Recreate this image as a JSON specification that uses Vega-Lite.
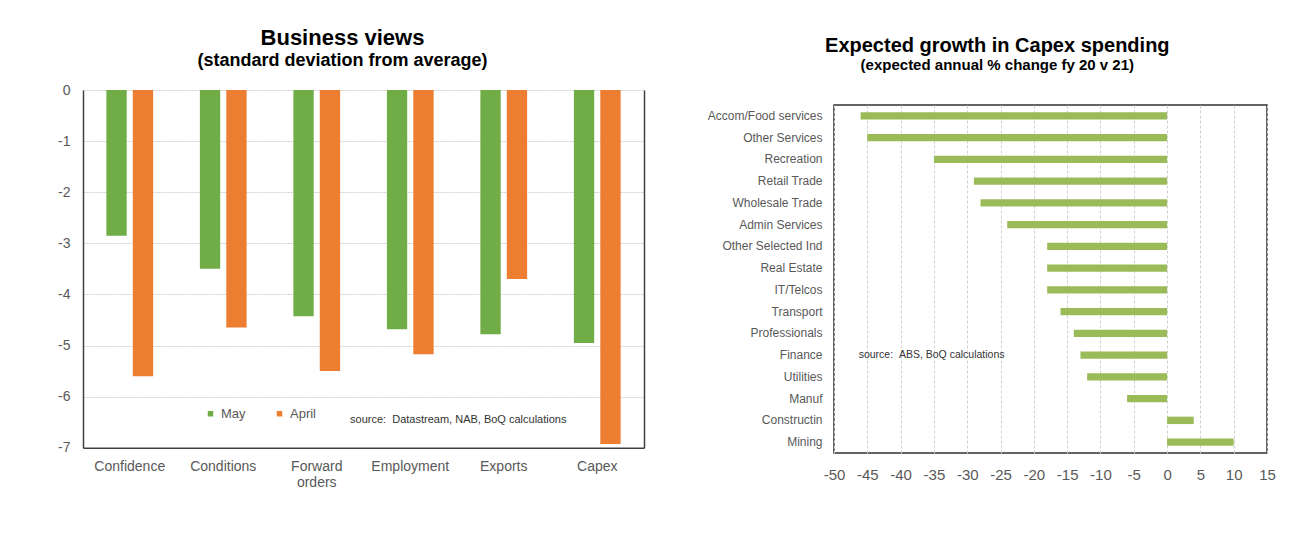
{
  "$schema": "https://vega.github.io/schema/vega-lite/v6.json",
  "background": "white",
  "padding": {"left": 57, "top": 27, "right": 0, "bottom": 0},
  "spacing": 62,
  "config": {
    "font": "Liberation Sans",
    "view": {"stroke": null},
    "axis": {"labelColor": "#595959", "domainColor": "#404040", "tickColor": "#404040"}
  },
  "datasets": {
    "business": [
      {"measure": "Confidence", "month": "May", "sd": -2.85},
      {"measure": "Confidence", "month": "April", "sd": -5.6},
      {"measure": "Conditions", "month": "May", "sd": -3.5},
      {"measure": "Conditions", "month": "April", "sd": -4.65},
      {"measure": "Forward orders", "month": "May", "sd": -4.43},
      {"measure": "Forward orders", "month": "April", "sd": -5.5},
      {"measure": "Employment", "month": "May", "sd": -4.68},
      {"measure": "Employment", "month": "April", "sd": -5.17},
      {"measure": "Exports", "month": "May", "sd": -4.78},
      {"measure": "Exports", "month": "April", "sd": -3.7},
      {"measure": "Capex", "month": "May", "sd": -4.95},
      {"measure": "Capex", "month": "April", "sd": -6.93}
    ],
    "capex": [
      {"industry": "Accom/Food services", "change": -46},
      {"industry": "Other Services", "change": -45},
      {"industry": "Recreation", "change": -35},
      {"industry": "Retail Trade", "change": -29},
      {"industry": "Wholesale Trade", "change": -28},
      {"industry": "Admin Services", "change": -24},
      {"industry": "Other Selected Ind", "change": -18},
      {"industry": "Real Estate", "change": -18},
      {"industry": "IT/Telcos", "change": -18},
      {"industry": "Transport", "change": -16},
      {"industry": "Professionals", "change": -14},
      {"industry": "Finance", "change": -13},
      {"industry": "Utilities", "change": -12},
      {"industry": "Manuf", "change": -6},
      {"industry": "Constructin", "change": 4},
      {"industry": "Mining", "change": 10}
    ]
  },
  "hconcat": [
    {
      "width": 561,
      "height": 342.7,
      "title": {
        "text": "Business views",
        "subtitle": "(standard deviation from average)",
        "fontSize": 22,
        "subtitleFontSize": 18,
        "fontWeight": "bold",
        "subtitleFontWeight": "bold",
        "color": "black",
        "subtitleColor": "black",
        "anchor": "middle",
        "frame": "group",
        "dx": -21,
        "subtitlePadding": 2,
        "offset": 12
      },
      "layer": [
        {
          "layer": [
            {
              "data": {"name": "business"},
              "mark": {"type": "bar"},
              "encoding": {
                "x": {
                  "field": "measure", "type": "nominal",
                  "scale": {"domain": ["Confidence", "Conditions", "Forward orders", "Employment", "Exports", "Capex"], "paddingInner": 0.5, "paddingOuter": 0.25},
                  "axis": {
                    "title": null, "labelAngle": 0, "labelFontSize": 14, "labelPadding": 12, "ticks": false,
                    "domainColor": "#404040", "domainWidth": 1.5,
                    "labelExpr": "datum.label == 'Forward orders' ? ['Forward', 'orders'] : datum.label",
                    "labelLineHeight": 16
                  }
                },
                "xOffset": {"field": "month", "type": "nominal", "scale": {"domain": ["May", "April"], "paddingInner": 0.23}},
                "y": {
                  "field": "sd", "type": "quantitative",
                  "scale": {"domain": [-7, 0], "nice": false, "range": [342.7, -15]},
                  "axis": {
                    "title": null, "values": [0, -1, -2, -3, -4, -5, -6, -7], "labelFontSize": 14, "labelPadding": 13, "ticks": false,
                    "labelExpr": "datum.value + ''",
                    "grid": true, "gridColor": "#d0d0d0", "gridDash": [2, 1], "domainColor": "#404040", "domainWidth": 1.5
                  }
                },
                "color": {
                  "field": "month", "type": "nominal",
                  "scale": {"domain": ["May", "April"], "range": ["#70AD47", "#ED7D31"]},
                  "legend": {
                    "title": null, "orient": "none", "direction": "horizontal", "legendX": 121, "legendY": 302,
                    "symbolType": "square", "symbolSize": 30, "labelFontSize": 13, "labelColor": "#595959",
                    "columnPadding": 27, "labelOffset": 4
                  }
                }
              }
            },
            {
              "data": {"values": [{"note": "source:\u00a0\u00a0Datastream, NAB, BoQ calculations", "m": "Employment", "v": -6.45}]},
              "mark": {"type": "text", "fontSize": 11, "color": "#333333", "align": "center", "dx": 48},
              "encoding": {
                "x": {"field": "m", "type": "nominal"},
                "y": {"field": "v", "type": "quantitative"},
                "text": {"field": "note"}
              }
            }
          ]
        },
        {
          "data": {"name": "business"},
          "mark": {"type": "rule", "opacity": 0},
          "encoding": {
            "y": {"field": "sd", "type": "quantitative", "scale": {"domain": [-7, 0], "nice": false, "range": [342.7, -15]},
              "axis": {"orient": "right", "labels": false, "ticks": false, "grid": false, "title": null, "domainColor": "#404040", "domainWidth": 1.5}}
          }
        }
      ],
      "resolve": {"scale": {"y": "independent"}, "axis": {"y": "independent"}}
    },
    {
      "width": 433,
      "height": 348,
      "title": {
        "text": "Expected growth in Capex spending",
        "subtitle": "(expected annual % change fy 20 v 21)",
        "fontSize": 20,
        "subtitleFontSize": 15,
        "fontWeight": "bold",
        "subtitleFontWeight": "bold",
        "color": "black",
        "subtitleColor": "black",
        "anchor": "middle",
        "frame": "bounds",
        "dx": 6,
        "subtitlePadding": 2,
        "offset": 32
      },
      "view": {"stroke": "#303030", "strokeWidth": 1.5},
      "layer": [
        {
          "data": {"name": "capex"},
          "mark": {"type": "bar", "color": "#9BBB59"},
          "encoding": {
            "y": {
              "field": "industry", "type": "nominal",
              "scale": {"domain": ["Accom/Food services", "Other Services", "Recreation", "Retail Trade", "Wholesale Trade", "Admin Services", "Other Selected Ind", "Real Estate", "IT/Telcos", "Transport", "Professionals", "Finance", "Utilities", "Manuf", "Constructin", "Mining"], "paddingInner": 0.66, "paddingOuter": 0.33},
              "axis": {"title": null, "labelFontSize": 12, "labelColor": "#595959", "ticks": false, "domain": false, "labelPadding": 12}
            },
            "x": {
              "field": "change", "type": "quantitative",
              "scale": {"domain": [-50, 15], "nice": false},
              "axis": {
                "title": null, "values": [-50, -45, -40, -35, -30, -25, -20, -15, -10, -5, 0, 5, 10, 15],
                "labelExpr": "datum.value + ''", "labelOverlap": false, "labelFlush": false,
                "labelFontSize": 15, "labelColor": "#595959", "labelPadding": 14, "ticks": false, "domain": false,
                "grid": true, "gridColor": "#d0d0d0", "gridDash": [3, 2]
              }
            }
          }
        },
        {
          "data": {"values": [{"note": "source:\u00a0\u00a0ABS, BoQ calculations", "ind": "Finance", "x": -46.3}]},
          "mark": {"type": "text", "fontSize": 10.5, "color": "#333333", "align": "left"},
          "encoding": {
            "y": {
              "field": "ind", "type": "nominal",
              "axis": {"title": null, "labelFontSize": 12, "labelColor": "#595959", "ticks": false, "domain": false, "labelPadding": 12}
            },
            "x": {
              "field": "x", "type": "quantitative",
              "axis": {
                "title": null, "values": [-50, -45, -40, -35, -30, -25, -20, -15, -10, -5, 0, 5, 10, 15],
                "labelExpr": "datum.value + ''", "labelOverlap": false, "labelFlush": false,
                "labelFontSize": 15, "labelColor": "#595959", "labelPadding": 14, "ticks": false, "domain": false,
                "grid": true, "gridColor": "#d0d0d0", "gridDash": [3, 2]
              }
            },
            "text": {"field": "note"}
          }
        }
      ]
    }
  ]
}
